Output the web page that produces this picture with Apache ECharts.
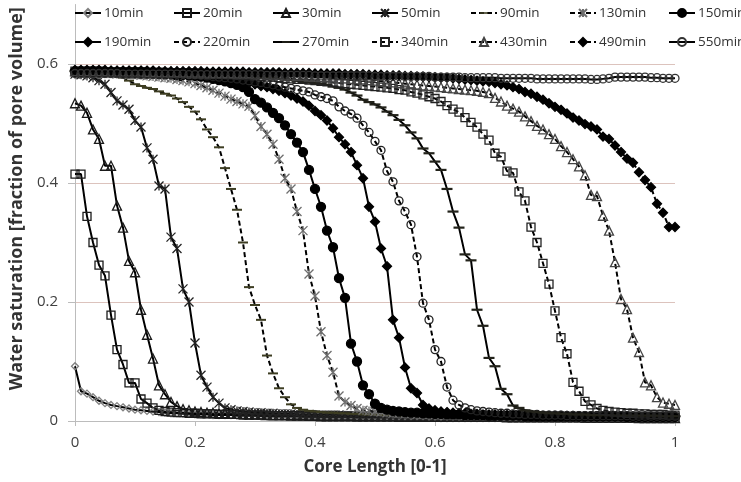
<!DOCTYPE html>
<html>
<head>
<meta charset="utf-8">
<script src="https://cdn.jsdelivr.net/npm/echarts@6/dist/echarts.min.js"></script>
<style>
html,body{margin:0;padding:0;background:#fff;}
#chart{width:741px;height:482px;}
</style>
</head>
<body>
<div id="chart"></div>
<script>
// Core length positions (fraction 0-1)
const coreLength = [
0.00,0.01,0.02,0.03,0.04,0.05,0.06,0.07,0.08,0.09,
0.10,0.11,0.12,0.13,0.14,0.15,0.16,0.17,0.18,0.19,
0.20,0.21,0.22,0.23,0.24,0.25,0.26,0.27,0.28,0.29,
0.30,0.31,0.32,0.33,0.34,0.35,0.36,0.37,0.38,0.39,
0.40,0.41,0.42,0.43,0.44,0.45,0.46,0.47,0.48,0.49,
0.50,0.51,0.52,0.53,0.54,0.55,0.56,0.57,0.58,0.59,
0.60,0.61,0.62,0.63,0.64,0.65,0.66,0.67,0.68,0.69,
0.70,0.71,0.72,0.73,0.74,0.75,0.76,0.77,0.78,0.79,
0.80,0.81,0.82,0.83,0.84,0.85,0.86,0.87,0.88,0.89,
0.90,0.91,0.92,0.93,0.94,0.95,0.96,0.97,0.98,0.99,
1.00];

const seriesNames = ['10min','20min','30min','50min','90min','130min','150min','190min','220min','270min','340min','430min','490min','550min'];

const sw10 = [
0.092,0.050,0.046,0.040,0.034,0.030,0.027,0.025,0.023,0.021,
0.019,0.018,0.017,0.016,0.015,0.014,0.013,0.013,0.012,0.012,
0.011,0.011,0.011,0.010,0.010,0.010,0.010,0.009,0.009,0.009,
0.009,0.008,0.008,0.008,0.008,0.008,0.008,0.008,0.007,0.007,
0.007,0.007,0.007,0.007,0.007,0.007,0.007,0.006,0.006,0.006,
0.006,0.006,0.006,0.006,0.006,0.006,0.006,0.006,0.006,0.006,
0.006,0.005,0.005,0.005,0.005,0.005,0.005,0.005,0.005,0.005,
0.005,0.005,0.005,0.005,0.005,0.005,0.005,0.005,0.005,0.005,
0.005,0.005,0.005,0.005,0.004,0.004,0.004,0.004,0.004,0.004,
0.004,0.004,0.004,0.004,0.004,0.004,0.004,0.004,0.004,0.004,
0.004];
const sw20 = [
0.415,0.415,0.344,0.300,0.262,0.244,0.178,0.120,0.095,0.064,
0.064,0.037,0.030,0.022,0.018,0.016,0.015,0.014,0.014,0.013,
0.013,0.012,0.012,0.012,0.011,0.011,0.011,0.011,0.010,0.010,
0.010,0.010,0.010,0.009,0.009,0.009,0.009,0.009,0.009,0.008,
0.008,0.008,0.008,0.008,0.008,0.008,0.008,0.007,0.007,0.007,
0.007,0.007,0.007,0.007,0.007,0.007,0.007,0.007,0.007,0.006,
0.006,0.006,0.006,0.006,0.006,0.006,0.006,0.006,0.006,0.006,
0.006,0.006,0.006,0.006,0.006,0.006,0.006,0.006,0.006,0.006,
0.006,0.006,0.006,0.006,0.006,0.005,0.005,0.005,0.005,0.005,
0.005,0.005,0.005,0.005,0.005,0.005,0.005,0.005,0.005,0.005,
0.005];
const sw30 = [
0.534,0.530,0.518,0.490,0.474,0.429,0.429,0.362,0.325,0.269,
0.250,0.187,0.145,0.105,0.060,0.045,0.032,0.025,0.020,0.018,
0.016,0.015,0.014,0.014,0.013,0.013,0.012,0.012,0.012,0.011,
0.011,0.011,0.010,0.010,0.010,0.010,0.009,0.009,0.009,0.009,
0.009,0.008,0.008,0.008,0.008,0.008,0.008,0.008,0.008,0.008,
0.008,0.008,0.008,0.008,0.007,0.007,0.007,0.007,0.007,0.007,
0.007,0.007,0.007,0.007,0.007,0.007,0.007,0.007,0.007,0.007,
0.007,0.007,0.006,0.006,0.006,0.006,0.006,0.006,0.006,0.006,
0.006,0.006,0.006,0.006,0.006,0.006,0.006,0.006,0.006,0.006,
0.006,0.006,0.006,0.006,0.005,0.005,0.005,0.005,0.005,0.005,
0.005];
const sw50 = [
0.583,0.582,0.580,0.577,0.572,0.566,0.552,0.538,0.531,0.524,
0.505,0.494,0.459,0.440,0.395,0.390,0.309,0.290,0.222,0.200,
0.131,0.077,0.057,0.040,0.030,0.022,0.019,0.017,0.016,0.015,
0.014,0.014,0.013,0.013,0.012,0.012,0.012,0.011,0.011,0.011,
0.010,0.010,0.010,0.010,0.010,0.009,0.009,0.009,0.009,0.009,
0.009,0.008,0.008,0.008,0.008,0.008,0.008,0.008,0.008,0.008,
0.008,0.008,0.008,0.008,0.008,0.007,0.007,0.007,0.007,0.007,
0.007,0.007,0.007,0.007,0.007,0.007,0.007,0.007,0.007,0.007,
0.007,0.007,0.006,0.006,0.006,0.006,0.006,0.006,0.006,0.006,
0.006,0.006,0.006,0.006,0.006,0.006,0.006,0.006,0.006,0.006,
0.006];
const sw90 = [
0.585,0.585,0.584,0.584,0.583,0.582,0.581,0.579,0.577,0.572,
0.566,0.563,0.560,0.558,0.554,0.550,0.547,0.542,0.536,0.528,
0.520,0.507,0.490,0.477,0.460,0.425,0.390,0.355,0.300,0.225,
0.195,0.170,0.110,0.080,0.055,0.040,0.028,0.022,0.019,0.017,
0.016,0.015,0.014,0.014,0.013,0.013,0.012,0.012,0.011,0.011,
0.011,0.010,0.010,0.010,0.010,0.009,0.009,0.009,0.009,0.009,
0.008,0.008,0.008,0.008,0.008,0.008,0.008,0.008,0.008,0.008,
0.008,0.008,0.008,0.007,0.007,0.007,0.007,0.007,0.007,0.007,
0.007,0.007,0.007,0.007,0.007,0.007,0.007,0.007,0.007,0.007,
0.007,0.007,0.007,0.006,0.006,0.006,0.006,0.006,0.006,0.006,
0.006];
const sw130 = [
0.586,0.586,0.585,0.585,0.585,0.584,0.584,0.583,0.583,0.582,
0.582,0.581,0.580,0.579,0.578,0.577,0.576,0.574,0.572,0.570,
0.567,0.564,0.560,0.556,0.551,0.546,0.541,0.537,0.533,0.529,
0.513,0.495,0.482,0.465,0.440,0.408,0.390,0.352,0.320,0.247,
0.210,0.150,0.110,0.082,0.042,0.032,0.026,0.021,0.018,0.017,
0.016,0.015,0.014,0.013,0.013,0.012,0.012,0.011,0.011,0.011,
0.010,0.010,0.010,0.010,0.010,0.009,0.009,0.009,0.009,0.009,
0.009,0.008,0.008,0.008,0.008,0.008,0.008,0.008,0.008,0.008,
0.008,0.008,0.008,0.008,0.008,0.007,0.007,0.007,0.007,0.007,
0.007,0.007,0.007,0.007,0.007,0.007,0.007,0.007,0.007,0.007,
0.007];
const sw150 = [
0.587,0.587,0.587,0.586,0.586,0.586,0.586,0.585,0.585,0.585,
0.585,0.584,0.584,0.584,0.583,0.583,0.583,0.582,0.582,0.581,
0.580,0.579,0.577,0.575,0.573,0.571,0.568,0.565,0.561,0.553,
0.541,0.535,0.527,0.518,0.509,0.497,0.482,0.468,0.452,0.422,
0.390,0.360,0.320,0.292,0.240,0.207,0.130,0.100,0.060,0.045,
0.029,0.022,0.019,0.017,0.016,0.015,0.014,0.014,0.013,0.013,
0.012,0.012,0.011,0.011,0.011,0.010,0.010,0.010,0.010,0.009,
0.009,0.009,0.009,0.009,0.009,0.008,0.008,0.008,0.008,0.008,
0.008,0.008,0.008,0.008,0.008,0.008,0.008,0.008,0.008,0.008,
0.008,0.008,0.007,0.007,0.007,0.007,0.007,0.007,0.007,0.007,
0.007];
const sw190 = [
0.588,0.588,0.588,0.588,0.587,0.587,0.587,0.587,0.586,0.586,
0.586,0.585,0.585,0.585,0.584,0.584,0.583,0.583,0.582,0.582,
0.581,0.580,0.579,0.578,0.577,0.575,0.574,0.572,0.570,0.568,
0.566,0.563,0.561,0.558,0.555,0.551,0.547,0.542,0.537,0.530,
0.521,0.514,0.505,0.492,0.477,0.465,0.452,0.430,0.408,0.360,
0.335,0.290,0.260,0.170,0.140,0.090,0.055,0.047,0.027,0.021,
0.018,0.016,0.015,0.014,0.013,0.013,0.012,0.012,0.011,0.011,
0.011,0.010,0.010,0.010,0.010,0.009,0.009,0.009,0.009,0.009,
0.009,0.009,0.009,0.009,0.008,0.008,0.008,0.008,0.008,0.008,
0.008,0.008,0.008,0.008,0.008,0.008,0.008,0.008,0.008,0.008,
0.008];
const sw220 = [
0.588,0.588,0.588,0.588,0.588,0.587,0.587,0.587,0.587,0.587,
0.586,0.586,0.586,0.585,0.585,0.585,0.584,0.584,0.583,0.583,
0.582,0.581,0.580,0.579,0.578,0.577,0.576,0.575,0.573,0.572,
0.570,0.569,0.567,0.565,0.563,0.561,0.559,0.557,0.555,0.553,
0.548,0.545,0.542,0.538,0.528,0.521,0.516,0.509,0.497,0.485,
0.470,0.455,0.420,0.402,0.370,0.352,0.330,0.276,0.198,0.170,
0.120,0.100,0.057,0.035,0.027,0.022,0.019,0.017,0.016,0.015,
0.014,0.013,0.013,0.012,0.012,0.011,0.011,0.011,0.010,0.010,
0.010,0.010,0.009,0.009,0.009,0.009,0.009,0.009,0.009,0.009,
0.009,0.009,0.009,0.008,0.008,0.008,0.008,0.008,0.008,0.008,
0.008];
const sw270 = [
0.588,0.588,0.588,0.588,0.588,0.587,0.587,0.587,0.587,0.587,
0.587,0.587,0.587,0.586,0.586,0.586,0.586,0.585,0.585,0.585,
0.585,0.584,0.584,0.583,0.583,0.582,0.582,0.581,0.581,0.580,
0.579,0.578,0.577,0.576,0.575,0.574,0.573,0.572,0.570,0.569,
0.568,0.567,0.565,0.562,0.560,0.557,0.552,0.547,0.540,0.536,
0.532,0.527,0.520,0.514,0.506,0.497,0.485,0.475,0.458,0.450,
0.436,0.422,0.390,0.352,0.325,0.280,0.270,0.187,0.160,0.106,
0.092,0.054,0.045,0.026,0.022,0.018,0.016,0.015,0.014,0.013,
0.013,0.012,0.012,0.011,0.011,0.011,0.010,0.010,0.010,0.010,
0.009,0.009,0.009,0.009,0.009,0.009,0.009,0.009,0.008,0.008,
0.008];
const sw340 = [
0.588,0.588,0.588,0.588,0.588,0.587,0.587,0.587,0.587,0.587,
0.587,0.587,0.586,0.586,0.586,0.586,0.585,0.585,0.585,0.585,
0.584,0.584,0.584,0.583,0.583,0.582,0.582,0.581,0.581,0.580,
0.580,0.579,0.578,0.578,0.577,0.576,0.575,0.574,0.574,0.573,
0.572,0.571,0.570,0.569,0.568,0.567,0.566,0.565,0.564,0.563,
0.562,0.561,0.560,0.559,0.557,0.556,0.553,0.551,0.548,0.545,
0.542,0.537,0.530,0.524,0.519,0.510,0.502,0.494,0.482,0.472,
0.450,0.444,0.420,0.417,0.385,0.370,0.326,0.300,0.265,0.230,
0.185,0.140,0.113,0.065,0.050,0.033,0.027,0.021,0.018,0.016,
0.015,0.014,0.013,0.013,0.012,0.012,0.011,0.011,0.011,0.010,
0.010];
const sw430 = [
0.588,0.588,0.588,0.588,0.588,0.588,0.588,0.588,0.588,0.588,
0.588,0.588,0.587,0.587,0.587,0.587,0.587,0.587,0.586,0.586,
0.586,0.586,0.586,0.585,0.585,0.585,0.585,0.584,0.584,0.584,
0.583,0.583,0.583,0.582,0.582,0.581,0.581,0.580,0.580,0.579,
0.579,0.578,0.578,0.577,0.576,0.576,0.575,0.574,0.574,0.573,
0.572,0.571,0.570,0.569,0.568,0.567,0.566,0.565,0.564,0.563,
0.562,0.561,0.560,0.559,0.558,0.557,0.556,0.555,0.553,0.551,
0.543,0.537,0.530,0.525,0.520,0.512,0.504,0.496,0.490,0.482,
0.474,0.462,0.452,0.440,0.428,0.413,0.380,0.378,0.345,0.320,
0.267,0.205,0.188,0.140,0.116,0.065,0.060,0.040,0.031,0.029,
0.027];
const sw490 = [
0.590,0.590,0.590,0.590,0.590,0.590,0.589,0.589,0.589,0.589,
0.589,0.589,0.589,0.589,0.588,0.588,0.588,0.588,0.588,0.588,
0.588,0.588,0.587,0.587,0.587,0.587,0.587,0.587,0.587,0.586,
0.586,0.586,0.586,0.586,0.586,0.585,0.585,0.585,0.585,0.585,
0.584,0.584,0.584,0.584,0.584,0.583,0.583,0.583,0.583,0.582,
0.582,0.582,0.581,0.581,0.581,0.580,0.580,0.579,0.579,0.578,
0.578,0.577,0.577,0.576,0.575,0.574,0.573,0.572,0.571,0.570,
0.568,0.566,0.564,0.561,0.558,0.553,0.550,0.545,0.540,0.534,
0.528,0.523,0.517,0.510,0.505,0.499,0.495,0.490,0.478,0.474,
0.463,0.452,0.441,0.434,0.418,0.405,0.393,0.365,0.350,0.326,
0.326];
const sw550 = [
0.584,0.584,0.584,0.584,0.584,0.584,0.584,0.584,0.583,0.583,
0.583,0.583,0.583,0.583,0.583,0.583,0.583,0.583,0.583,0.582,
0.582,0.582,0.582,0.582,0.582,0.582,0.582,0.582,0.582,0.582,
0.582,0.582,0.581,0.581,0.581,0.581,0.581,0.581,0.581,0.581,
0.580,0.580,0.580,0.580,0.580,0.580,0.580,0.580,0.580,0.580,
0.579,0.579,0.579,0.579,0.579,0.579,0.579,0.579,0.579,0.579,
0.578,0.578,0.578,0.578,0.578,0.577,0.577,0.577,0.577,0.577,
0.577,0.576,0.576,0.576,0.576,0.576,0.576,0.575,0.575,0.575,
0.575,0.575,0.575,0.575,0.575,0.575,0.574,0.574,0.575,0.576,
0.578,0.578,0.578,0.578,0.578,0.578,0.577,0.577,0.576,0.576,
0.576];

const seriesValues = [sw10,sw20,sw30,sw50,sw90,sw130,sw150,sw190,sw220,sw270,sw340,sw430,sw490,sw550];

const xTickLabels = ['0','0.2','0.4','0.6','0.8','1'];
const yTickLabels = ['0','0.2','0.4','0.6'];

// marker path symbols
const STAR = 'path://M0 0L10 10M10 0L0 10M5 0L5 10';
const DASH = 'path://M0 0M10 10M0 4H10V6H0Z';

const styles = [
  {sym:'diamond', size:7, fill:'none', stroke:'#808080', dash:'solid'},
  {sym:'rect', size:8, fill:'none', stroke:'#1a1a1a', dash:'solid'},
  {sym:'triangle', size:9, fill:'none', stroke:'#1a1a1a', dash:'solid'},
  {sym:STAR, size:9, fill:'none', stroke:'#222', dash:'solid'},
  {sym:DASH, size:10, fill:'#3d3d22', stroke:'#3d3d22', dash:[5,3], bw:0},
  {sym:STAR, size:9, fill:'none', stroke:'#6e6e6e', dash:[5,3]},
  {sym:'circle', size:9, fill:'#000', stroke:'#000', dash:'solid'},
  {sym:'diamond', size:9, fill:'#000', stroke:'#000', dash:'solid'},
  {sym:'circle', size:8, fill:'none', stroke:'#222', dash:[5,3]},
  {sym:DASH, size:11, fill:'#22221a', stroke:'#22221a', dash:'solid', bw:0},
  {sym:'rect', size:8, fill:'none', stroke:'#222', dash:[5,3]},
  {sym:'triangle', size:9, fill:'none', stroke:'#444', dash:[5,3]},
  {sym:'diamond', size:9, fill:'#000', stroke:'#000', dash:[5,3]},
  {sym:'circle', size:8, fill:'none', stroke:'#333', dash:'solid'}
];

const legendCols = [74,173,272,371,470,569,668];
const legendRows = [6,35];
const FONT = '"Open Sans", "Noto Sans", sans-serif';

const chart = echarts.init(document.getElementById('chart'), null, {renderer:'canvas'});

const series = seriesNames.map((name, i) => {
  const st = styles[i];
  return {
    name: name,
    type: 'line',
    data: coreLength.map((x, j) => [x, seriesValues[i][j]]),
    symbol: st.sym,
    symbolSize: st.size,
    showSymbol: true,
    showAllSymbol: true,
    smooth: false,
    lineStyle: {color:'#000', width:2, type: st.dash},
    itemStyle: {color: st.fill, borderColor: st.stroke, borderWidth: st.bw === undefined ? 1.3 : st.bw},
    emphasis: {disabled: true},
    animation: false
  };
});

const legends = seriesNames.map((name, i) => ({
  data: [name],
  left: legendCols[i % 7],
  top: legendRows[Math.floor(i / 7)],
  padding: 0,
  itemWidth: 26,
  itemHeight: 10,
  itemGap: 0,
  selectedMode: false,
  textStyle: {fontSize: 13.5, color: '#333', fontFamily: FONT, padding:[0,0,0,-2]}
}));

chart.setOption({
  backgroundColor: '#fff',
  animation: false,
  textStyle: {fontFamily: FONT},
  legend: legends,
  grid: {left: 75, right: 66, top: 4.5, bottom: 61, containLabel: false},
  xAxis: {
    type: 'value', min: 0, max: 1, interval: 0.2,
    name: 'Core Length [0-1]', nameLocation: 'middle', nameGap: 38,
    nameTextStyle: {fontSize: 17, fontWeight: 'bold', color: '#333', fontFamily: FONT},
    axisLine: {show: true, lineStyle: {color: '#bcbcbc', width: 1}},
    axisTick: {show: true, inside: false, length: 5, lineStyle: {color: '#bcbcbc'}},
    axisLabel: {fontSize: 15, color: '#404040', margin: 14, fontFamily: FONT,
      formatter: v => { const k = Math.round(v / 0.2); return xTickLabels[k] !== undefined ? xTickLabels[k] : ''; }},
    splitLine: {show: false}
  },
  yAxis: {
    type: 'value', min: 0, max: 0.7, interval: 0.2,
    name: 'Water saturation [fraction of pore volume]', nameLocation: 'middle', nameGap: 42, nameRotate: 90,
    nameTextStyle: {fontSize: 18, fontWeight: 'bold', color: '#333', fontFamily: FONT, padding: [0, 0, 0, 28]},
    axisLine: {show: true, lineStyle: {color: '#bcbcbc', width: 1}},
    axisTick: {show: true, inside: false, length: 7, lineStyle: {color: '#bcbcbc'}},
    axisLabel: {fontSize: 15, color: '#404040', margin: 17, fontFamily: FONT, showMaxLabel: false,
      formatter: v => { if (v > 0.65) return ''; const k = Math.round(v / 0.2); return yTickLabels[k] !== undefined ? yTickLabels[k] : ''; }},
    splitLine: {show: true, lineStyle: {color: ['#dcc3bd','#dcc3bd','#dcc3bd','#dcc3bd','rgba(0,0,0,0)'], width: 1}}
  },
  series: series
});
</script>
</body>
</html>
